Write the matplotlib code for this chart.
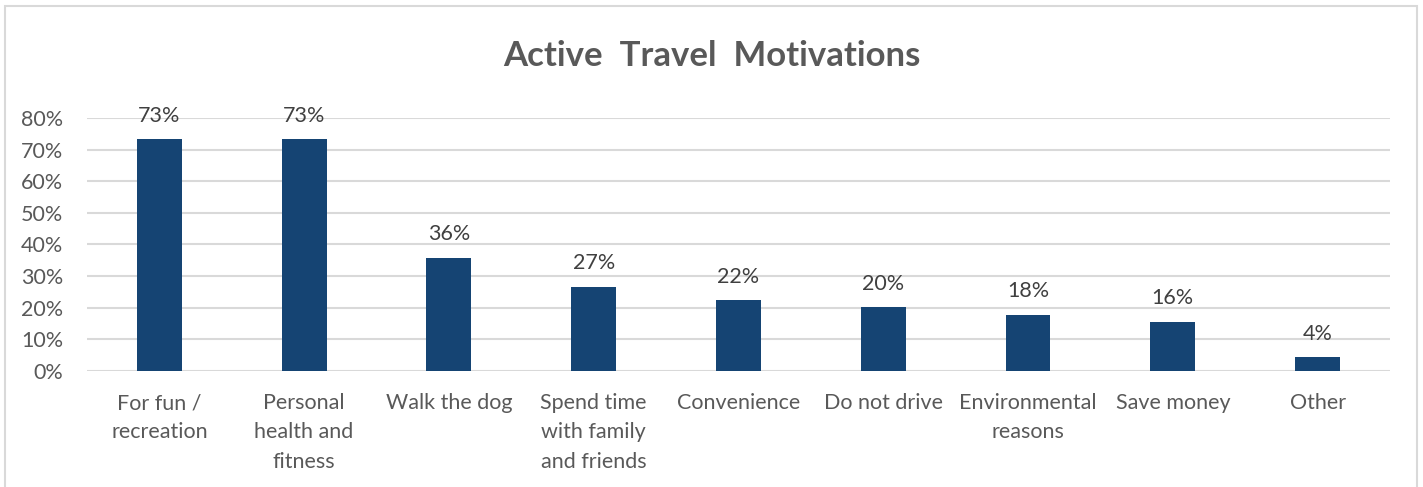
import matplotlib.pyplot as plt
from matplotlib.patches import Rectangle

categories = ['For fun /\nrecreation', 'Personal\nhealth and\nfitness', 'Walk the dog',
              'Spend time\nwith family\nand friends', 'Convenience', 'Do not drive',
              'Environmental\nreasons', 'Save money', 'Other']
shares = [73.4, 73.4, 35.8, 26.7, 22.3, 20.1, 17.8, 15.6, 4.4]
yticks = [0, 10, 20, 30, 40, 50, 60, 70, 80]

bar_color = '#154473'
text_color = '#595959'
grid_color = '#d9d9d9'

plt.rcParams['font.family'] = ['Lato', 'DejaVu Sans']

fig = plt.figure(figsize=(14.23, 4.87), dpi=100)
ax = fig.add_axes([0.0611, 0.2382, 0.9157, 0.5195])

x = range(len(categories))
ax.bar(x, shares, width=0.31, color=bar_color, zorder=3)

for xi, v in zip(x, shares):
    ax.text(xi, v + 4.2, '%d%%' % round(v), ha='center', va='bottom',
            fontsize=15.5, color='#404040')

ax.set_xlim(-0.5, len(categories) - 0.5)
ax.set_ylim(0, 80)
ax.set_yticks(yticks)
ax.set_yticklabels(['%d%%' % t for t in yticks])
ax.set_xticks(list(x))
ax.set_xticklabels(categories, linespacing=1.58)
ax.tick_params(axis='both', length=0, labelsize=15.5, labelcolor=text_color)
ax.tick_params(axis='x', pad=16)
ax.tick_params(axis='y', pad=17)
ax.grid(axis='y', color=grid_color, linewidth=1.5, zorder=0)
for s in ax.spines.values():
    s.set_visible(False)

fig.text(0.5, 0.884, 'Active  Travel  Motivations', ha='center', va='center',
         fontsize=25, fontweight='bold', color=text_color)

# outer chart frame, open at the bottom
fig.patches.append(Rectangle((5 / 1423, -0.05), 1412 / 1423, 1.0 - 6 / 487 + 0.05,
                             transform=fig.transFigure, fill=False,
                             edgecolor='#d9d9d9', linewidth=1.5))

fig.savefig('out.png', dpi=100)
